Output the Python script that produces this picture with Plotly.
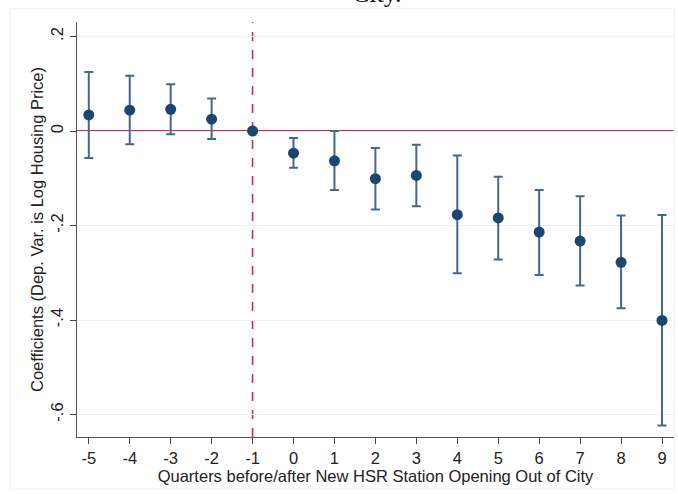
import plotly.graph_objects as go

# Event-study coefficients with 95% confidence intervals
quarters = [-5, -4, -3, -2, -1, 0, 1, 2, 3, 4, 5, 6, 7, 8, 9]
quarter_labels = ["-5", "-4", "-3", "-2", "-1", "0", "1", "2", "3", "4", "5", "6", "7", "8", "9"]
coef = [0.034, 0.044, 0.046, 0.025, 0.0, -0.047, -0.063, -0.101, -0.094,
        -0.177, -0.184, -0.214, -0.233, -0.278, -0.401]
ci_upper = [0.125, 0.117, 0.099, 0.069, 0.0, -0.015, 0.0, -0.036, -0.029,
            -0.052, -0.097, -0.125, -0.138, -0.179, -0.178]
ci_lower = [-0.057, -0.028, -0.007, -0.017, 0.0, -0.078, -0.125, -0.166, -0.159,
            -0.301, -0.272, -0.305, -0.327, -0.375, -0.623]

y_ticks = [0.2, 0.0, -0.2, -0.4, -0.6]
y_tick_labels = [".2", "0", "-.2", "-.4", "-.6"]

navy = "#1a476f"
bar_color = "#46688c"
ref_red = "#d9234f"

err_plus = [u - c for u, c in zip(ci_upper, coef)]
err_minus = [c - l for c, l in zip(coef, ci_lower)]

fig = go.Figure()
fig.add_trace(go.Scatter(
    x=quarters, y=coef, mode="markers",
    marker=dict(color=navy, size=11),
    error_y=dict(type="data", symmetric=False, array=err_plus, arrayminus=err_minus,
                 color=bar_color, thickness=2, width=4.5),
    showlegend=False,
))

# Reference lines: zero effect and the last pre-opening quarter
fig.add_hline(y=0, line=dict(color=ref_red, width=2), layer="below")
fig.add_vline(x=-1, line=dict(color=ref_red, width=1.6, dash="dash"), layer="below")

# Faint outer frame of the graph region
fig.add_shape(type="rect", xref="paper", yref="paper",
              x0=-0.112, x1=1.0, y0=-0.125, y1=1.032,
              line=dict(color="#eef3f5", width=1), layer="below")

fig.add_annotation(text="City.", xref="paper", yref="paper", x=0.503, y=1.029,
                   xanchor="center", yanchor="bottom", showarrow=False,
                   font=dict(family="Liberation Serif", size=26, color="#111111"))

axis_font = dict(family="Liberation Sans, Arial", size=16.5, color="#222222")
fig.update_layout(
    width=678, height=494,
    margin=dict(l=77, r=4, t=22, b=57),
    paper_bgcolor="white", plot_bgcolor="white",
    font=axis_font,
    xaxis=dict(
        range=[-5.288, 9.293], tickmode="array", tickvals=quarters,
        ticktext=quarter_labels,
        ticks="outside", ticklen=6, tickcolor="#444444", tickwidth=1,
        showline=True, linecolor="#555555", linewidth=1.2,
        showgrid=False, zeroline=False,
        title=dict(text="Quarters before/after New HSR Station Opening Out of City",
                   font=axis_font, standoff=0),
        tickfont=axis_font,
    ),
    yaxis=dict(
        range=[-0.6476, 0.2307], tickmode="array", tickvals=y_ticks,
        ticktext=y_tick_labels, tickangle=-90,
        ticks="outside", ticklen=6, tickcolor="#444444", tickwidth=1,
        showline=True, linecolor="#555555", linewidth=1.2,
        showgrid=True, gridcolor="#eaf2f3", gridwidth=1, zeroline=False,
        title=dict(text="Coefficients (Dep. Var. is Log Housing Price)",
                   font=axis_font, standoff=0),
        tickfont=axis_font,
    ),
)

fig.write_html("out.html")
